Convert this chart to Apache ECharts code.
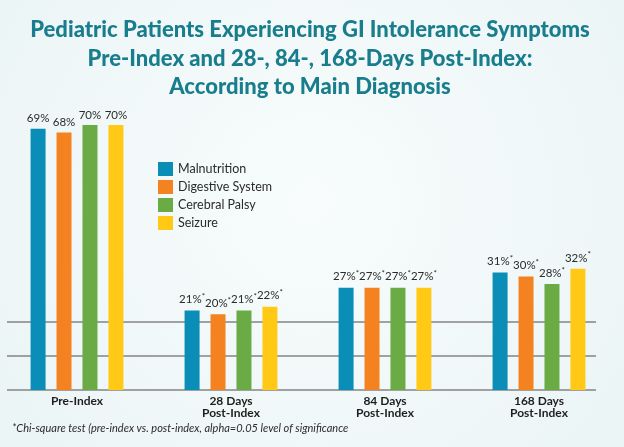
<!DOCTYPE html>
<html>
<head>
<meta charset="utf-8">
<script src="https://cdn.jsdelivr.net/npm/echarts@6/dist/echarts.min.js"></script>
<style>
  html, body { margin: 0; padding: 0; }
  #chart { width: 624px; height: 447px; }
</style>
</head>
<body>
<div id="chart"></div>
<script>
// GI intolerance by diagnosis, pre- and post-index
var categories = ['Pre-Index', '28 Days\nPost-Index', '84 Days\nPost-Index', '168 Days\nPost-Index'];
var significant = [false, true, true, true];
var malnutrition = [69, 21, 27, 31];
var digestiveSystem = [68, 20, 27, 30];
var cerebralPalsy = [70, 21, 27, 28];
var seizure = [70, 22, 27, 32];
var titleLines = [
  'Pediatric Patients Experiencing GI Intolerance Symptoms',
  'Pre-Index and 28-, 84-, 168-Days Post-Index:',
  'According to Main Diagnosis'
];
var footnote = '*Chi-square test (pre-index vs. post-index, alpha=0.05 level of significance';

(function () {
  'use strict';

  var chart = echarts.init(document.getElementById('chart'), null, { renderer: 'canvas' });
  var FONT = 'Lato, "Open Sans", sans-serif';

  function makeSeries(name, values, color) {
    return {
      name: name,
      type: 'bar',
      xAxisIndex: 0,
      yAxisIndex: 0,
      data: values,
      barWidth: 15,
      barGap: '73%',
      itemStyle: { color: color },
      label: {
        show: true,
        position: 'top',
        distance: 4,
        formatter: function (p) {
          var txt = '{v|' + p.value + '%}';
          if (significant[p.dataIndex]) txt += '{s|*}';
          return txt;
        },
        rich: {
          v: { fontFamily: FONT, fontSize: 11.5, color: '#2b2b2b' },
          s: { fontFamily: FONT, fontSize: 8, color: '#2b2b2b', padding: [0, 0, 6, 0] }
        }
      },
      z: 3
    };
  }

  chart.setOption({
    backgroundColor: {
      type: 'radial',
      x: 0.5, y: 0.45, r: 0.8,
      colorStops: [
        { offset: 0, color: '#f8fcfc' },
        { offset: 1, color: '#ecf5f6' }
      ]
    },
    title: {
      text: titleLines.join('\n'),
      left: 305,
      top: 11,
      textAlign: 'center',
      textStyle: {
        fontFamily: FONT,
        fontSize: 22,
        fontWeight: 900,
        color: '#187d8c',
        lineHeight: 28.5
      }
    },
    legend: {
      orient: 'vertical',
      left: 158,
      top: 162,
      padding: 0,
      itemWidth: 15,
      itemHeight: 14,
      itemGap: 4,
      icon: 'rect',
      textStyle: { fontFamily: FONT, fontSize: 12.5, color: '#2b2b2b' },
      data: ['Malnutrition', 'Digestive System', 'Cerebral Palsy', 'Seizure']
    },
    graphic: [{
      type: 'text',
      left: 12,
      top: 423,
      style: {
        text: footnote,
        font: 'italic 11px ' + FONT,
        fill: '#2b2b2b'
      }
    }],
    grid: [
      { left: -14, right: 8, top: 87, bottom: 57 },
      { left: 7, right: 28, top: 322, bottom: 57 }
    ],
    xAxis: [
      {
        type: 'category',
        gridIndex: 0,
        data: categories,
        axisLine: { show: false },
        axisTick: { show: false },
        axisLabel: {
          margin: 5,
          fontFamily: FONT,
          fontSize: 12,
          fontWeight: 'bold',
          color: '#1e1e1e',
          lineHeight: 12
        }
      },
      {
        type: 'value',
        gridIndex: 1,
        min: 0,
        max: 1,
        show: false
      }
    ],
    yAxis: [
      {
        type: 'value',
        gridIndex: 0,
        min: 0,
        max: 80,
        show: false,
        splitLine: { show: false }
      },
      {
        type: 'value',
        gridIndex: 1,
        min: 0,
        max: 2,
        interval: 1,
        axisLine: { show: false },
        axisTick: { show: false },
        axisLabel: { show: false },
        splitLine: { show: true, lineStyle: { color: '#858585', width: 1.5 } }
      }
    ],
    series: [
      makeSeries('Malnutrition', malnutrition, '#0a8db7'),
      makeSeries('Digestive System', digestiveSystem, '#f58220'),
      makeSeries('Cerebral Palsy', cerebralPalsy, '#6aab45'),
      makeSeries('Seizure', seizure, '#ffc915')
    ]
  });
})();
</script>
</body>
</html>
